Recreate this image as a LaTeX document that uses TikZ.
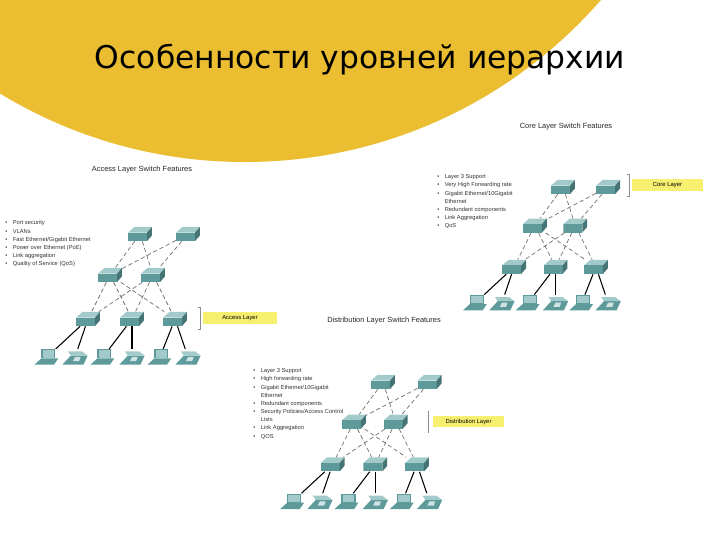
\documentclass[tikz,border=0pt]{standalone}
\usepackage{fontspec}
\setmainfont{Liberation Sans}
\newfontfamily\titlefont{DejaVu Sans}
\usetikzlibrary{positioning, calc}
\definecolor{slideyellow}{HTML}{EBBD30}
\definecolor{switchtop}{HTML}{A3CACA}
\definecolor{switchfront}{HTML}{5E9A9A}
\definecolor{labelyellow}{HTML}{F7EF70}
\definecolor{linkgray}{HTML}{6E6E6E}
\newcommand{\bitem}{\textbullet\hspace{3.9pt}}
\newcommand{\bcont}{\phantom{\textbullet}\hspace{3.9pt}}

\begin{document}
\begin{tikzpicture}[
  x=0.025cm, y=-0.025cm,
  switchbox/.style={minimum width=17pt, minimum height=10pt, inner sep=0pt,
    path picture={
      \fill[switchtop, shift={(path picture bounding box.center)}]
        (-8.5pt,1pt) -- (-4pt,5pt) -- (8.5pt,5pt) -- (5pt,1pt) -- cycle;
      \fill[switchfront, shift={(path picture bounding box.center)}]
        (-8.5pt,1pt) -- (5pt,1pt) -- (5pt,-5pt) -- (-8.5pt,-5pt) -- cycle;
      \fill[switchfront!75!black, shift={(path picture bounding box.center)}]
        (5pt,1pt) -- (8.5pt,5pt) -- (8.5pt,-1pt) -- (5pt,-5pt) -- cycle;
    }},
  laptopbox/.style={minimum width=18pt, minimum height=11pt, inner sep=0pt,
    path picture={
      \fill[switchfront, shift={(path picture bounding box.center)}]
        (-4pt,-1pt) -- (6pt,-1pt) -- (6pt,5.5pt) -- (-4pt,5.5pt) -- cycle;
      \fill[switchtop, shift={(path picture bounding box.center)}]
        (-3.2pt,-0.5pt) -- (5.2pt,-0.5pt) -- (5.2pt,4.8pt) -- (-3.2pt,4.8pt) -- cycle;
      \fill[switchfront, shift={(path picture bounding box.center)}]
        (-9pt,-5.5pt) -- (5pt,-5.5pt) -- (8pt,-1pt) -- (-4pt,-1pt) -- cycle;
    }},
  phonebox/.style={minimum width=18pt, minimum height=11pt, inner sep=0pt,
    path picture={
      \fill[switchfront, shift={(path picture bounding box.center)}]
        (-9pt,-5.5pt) -- (6pt,-5.5pt) -- (9pt,1pt) -- (-3pt,1pt) -- cycle;
      \fill[switchtop, shift={(path picture bounding box.center)}]
        (-3pt,1pt) -- (9pt,1pt) -- (5pt,4pt) -- (-5pt,4pt) -- cycle;
      \fill[switchtop!50!white, shift={(path picture bounding box.center)}]
        (-1.5pt,-3pt) -- (3pt,-3pt) -- (4pt,0pt) -- (0pt,0pt) -- cycle;
    }},
  uplink/.style={linkgray, densely dashed, line width=0.5pt},
  accesslink/.style={black, line width=0.75pt},
  layerbox/.style={fill=labelyellow, inner sep=0pt, font=\fontsize{4.2}{5}\selectfont},
  bracket/.style={draw=black!45, line width=0.5pt},
  heading/.style={font=\fontsize{5.3}{6}\selectfont, text=black!85},
  bullets/.style={font=\fontsize{4.1}{5.8}\selectfont, align=left, anchor=north west, inner sep=0pt, text=black!80}
]
  \useasboundingbox (0,0) rectangle (720,540);
  \begin{scope}
    \clip (0,0) rectangle (720,540);
    \fill[slideyellow] (245,-310) circle[radius=472];
  \end{scope}
  \node[font=\titlefont\fontsize{22.3}{26}\selectfont] (title) at (360,60) {Особенности уровней иерархии};

  % the same little network three times
  \foreach \pre/\ox/\oy/\sc in {acc/140/234/1, core/563/187/0.94, dist/383/382/0.97} {
    \begin{scope}[shift={(\ox,\oy)}, x=0.025cm*\sc, y=-0.025cm*\sc, name prefix=\pre-]
      \node[switchbox] (t1) at (0,0) {};
      \node[switchbox] (t2) at (48,0) {};
      \node[switchbox] (m1) at (-30,41) {};
      \node[switchbox] (m2) at (13,41) {};
      \node[switchbox] (b1) at (-52,85) {};
      \node[switchbox] (b2) at (-8,85) {};
      \node[switchbox] (b3) at (35,85) {};
      \node[laptopbox] (d1) at (-93,123) {};
      \node[phonebox] (d2) at (-65,123) {};
      \node[laptopbox] (d3) at (-37,123) {};
      \node[phonebox] (d4) at (-8,123) {};
      \node[laptopbox] (d5) at (20,123) {};
      \node[phonebox] (d6) at (48,123) {};
      \foreach \a in {t1,t2}
        \foreach \b in {m1,m2}
          \draw[uplink] (\a) -- (\b);
      \foreach \a in {m1,m2}
        \foreach \b in {b1,b2,b3}
          \draw[uplink] (\a) -- (\b);
      \draw[accesslink] (b1) -- (d1);
      \draw[accesslink] (b1) -- (d2);
      \draw[accesslink] (b2) -- (d3);
      \draw[accesslink] (b2) -- (d4);
      \draw[accesslink] (b3) -- (d5);
      \draw[accesslink] (b3) -- (d6);
    \end{scope}
  }

  \node[heading] (acctitle) at (142,170) {Access Layer Switch Features};
  \node[heading] (coretitle) at (566,127) {Core Layer Switch Features};
  \node[heading] (disttitle) at (384,321) {Distribution Layer Switch Features};

  \node[bullets] (acclist) at (5,220.5) {\bitem Port security\\\bitem VLANs\\\bitem Fast Ethernet/Gigabit Ethernet\\\bitem Power over Ethernet (PoE)\\\bitem Link aggregation\\\bitem Quality of Service (QoS)};
  \node[bullets] (corelist) at (437,174.5) {\bitem Layer 3 Support\\\bitem Very High Forwarding rate\\\bitem Gigabit Ethernet/10Gigabit\\\bcont Ethernet\\\bitem Redundant components\\\bitem Link Aggregation\\\bitem QoS};
  \node[bullets] (distlist) at (253,368.5) {\bitem Layer 3 Support\\\bitem High forwarding rate\\\bitem Gigabit Ethernet/10Gigabit\\\bcont Ethernet\\\bitem Redundant components\\\bitem Security Policies/Access Control\\\bcont Lists\\\bitem Link Aggregation\\\bitem QOS};

  \node[layerbox, minimum width=52pt, minimum height=8.5pt] (accbox) at (240,318) {Access Layer};
  \node[layerbox, minimum width=50pt, minimum height=8.5pt] (corebox) at (667.5,185) {Core Layer};
  \node[layerbox, minimum width=50pt, minimum height=8pt] (distbox) at (468.5,421.5) {Distribution Layer};

  \coordinate (accbr) at (accbox.west);
  \coordinate (corebr) at (corebox.west);
  \coordinate (distbr) at (distbox.west);
  \draw[bracket] ($(accbr)+(-5,-11)$) -- ++(2,0) -- ++(0,22) -- ++(-2,0);
  \draw[bracket] ($(corebr)+(-5,-11)$) -- ++(2,0) -- ++(0,22) -- ++(-2,0);
  \draw[bracket] ($(distbr)+(-5,-11)$) -- ++(0,22);
\end{tikzpicture}
\end{document}
